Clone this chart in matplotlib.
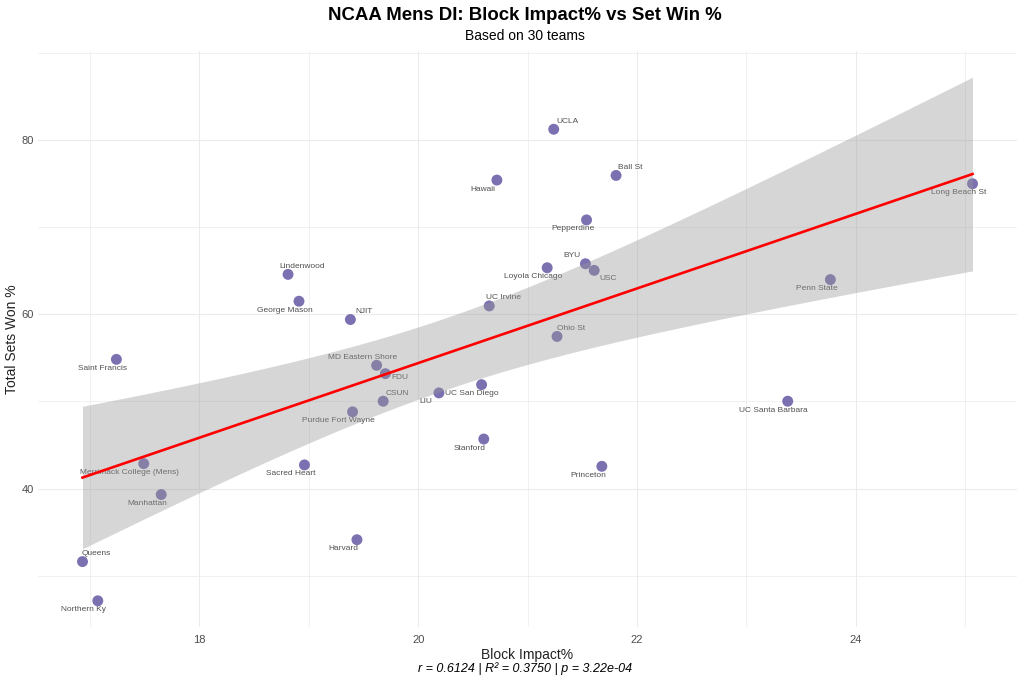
import numpy as np
import matplotlib
matplotlib.use('Agg')
import matplotlib.pyplot as plt
from matplotlib.ticker import MultipleLocator

plt.rcParams['font.family'] = ['Liberation Sans', 'DejaVu Sans']

# data

teams = [
    'Lindenwood', 'George Mason', 'NJIT', 'Saint Francis', 'Purdue Fort Wayne',
    'Merrimack College (Mens)', 'Sacred Heart', 'Manhattan', 'Harvard', 'Queens',
    'Northern Ky', 'UCLA', 'Ball St', 'Hawaii', 'Pepperdine',
    'Loyola Chicago', 'BYU', 'USC', 'UC Irvine', 'Ohio St',
    'MD Eastern Shore', 'FDU', 'CSUN', 'LIU', 'UC San Diego',
    'Stanford', 'Princeton', 'Penn State', 'UC Santa Barbara', 'Long Beach St',
]
block_impact = [
    18.81, 18.91, 19.38, 17.24, 19.40,
    17.49, 18.96, 17.65, 19.44, 16.93,
    17.07, 21.24, 21.81, 20.72, 21.54,
    21.18, 21.53, 21.61, 20.65, 21.27,
    19.62, 19.70, 19.68, 20.19, 20.58,
    20.60, 21.68, 23.77, 23.38, 25.07,
]
sets_won = [
    64.57, 61.49, 59.39, 54.82, 48.80,
    42.86, 42.71, 39.31, 34.13, 31.62,
    27.12, 81.22, 75.92, 75.39, 70.82,
    65.33, 65.79, 65.03, 60.95, 57.45,
    54.14, 53.18, 50.02, 50.97, 51.92,
    45.68, 42.55, 63.97, 50.02, 74.97,
]
caption = 'r = 0.6124 | R\u00b2 = 0.3750 | p = 3.22e-04'

# label placement (pixel offsets of label centre from the point)
UR = (14, 8)
DL = (-14, -9)
label_offsets = [
    UR, DL, UR, DL, DL,
    DL, DL, DL, DL, UR,
    DL, UR, UR, DL, DL,
    DL, (-14, 8), (14, -8), UR, UR,
    (-14, 8), (15, -4), UR, (-13, -9), (-10, -9),
    DL, DL, DL, DL, DL,
]

x = np.array(block_impact)
y = np.array(sets_won)

# linear fit with 95% confidence band
n = len(x)
slope, intercept = np.polyfit(x, y, 1)
resid = y - (slope * x + intercept)
s_err = np.sqrt(np.sum(resid ** 2) / (n - 2))
t_crit = 2.0484  # t(0.975, df=28)
x_fit = np.linspace(x.min(), x.max(), 200)
y_fit = slope * x_fit + intercept
se_fit = s_err * np.sqrt(1.0 / n + (x_fit - x.mean()) ** 2 / np.sum((x - x.mean()) ** 2))
lo = y_fit - t_crit * se_fit
hi = y_fit + t_crit * se_fit

# setup figure

fig = plt.figure(figsize=(10.24, 6.83), dpi=100)
ax = fig.add_axes([38 / 1024, 1 - 627 / 683, (1017 - 38) / 1024, (627 - 51) / 683])

ax.scatter(x, y, s=62, color='#5a4e9e', alpha=0.8, edgecolors='none', zorder=2)

for name, xi, yi, off in zip(teams, x, y, label_offsets):
    ax.annotate(
        name, (xi, yi),
        xytext=off, textcoords='offset pixels',
        ha='center', va='center',
        fontsize=6, color='#505050', zorder=3,
    )

ax.fill_between(x_fit, lo, hi, color='#999999', alpha=0.4, linewidth=0, zorder=4)
ax.plot(x_fit, y_fit, color='red', linewidth=1.9, zorder=5)

# finalize plot

xr = x.max() - x.min()
ax.set_xlim(x.min() - 0.05 * xr, x.max() + 0.05 * xr)
ymin = min(y.min(), lo.min())
ymax = max(y.max(), hi.max())
yr = ymax - ymin
ax.set_ylim(ymin - 0.05 * yr, ymax + 0.05 * yr)

ax.xaxis.set_major_locator(MultipleLocator(2))
ax.xaxis.set_minor_locator(MultipleLocator(1))
ax.yaxis.set_major_locator(MultipleLocator(20))
ax.yaxis.set_minor_locator(MultipleLocator(10))
ax.grid(True, which='major', color='#ebebeb', linewidth=0.75, zorder=0)
ax.grid(True, which='minor', color='#ededed', linewidth=0.55, zorder=0)
ax.set_axisbelow(True)
for side in ax.spines.values():
    side.set_visible(False)
ax.tick_params(which='both', length=0, labelsize=8, labelcolor='#4d4d4d')
ax.tick_params(axis='y', pad=3)
ax.tick_params(axis='x', pad=6)

ax.set_xlabel('Block Impact%', fontsize=10, color='#222222', labelpad=2)
fig.text(12 / 1024, 1 - 339 / 683, 'Total Sets Won %', rotation=90,
         ha='center', va='center', fontsize=10, color='#222222')

fig.text(0.513, 1 - 16 / 683, 'NCAA Mens DI: Block Impact% vs Set Win %',
         ha='center', va='center', fontsize=13.4, fontweight='bold')
fig.text(0.513, 1 - 36 / 683, 'Based on 30 teams',
         ha='center', va='center', fontsize=10)
fig.text(0.513, 1 - 669 / 683, caption,
         ha='center', va='center', fontsize=9, style='italic')

plt.savefig('out.png', dpi=100)
plt.close()
